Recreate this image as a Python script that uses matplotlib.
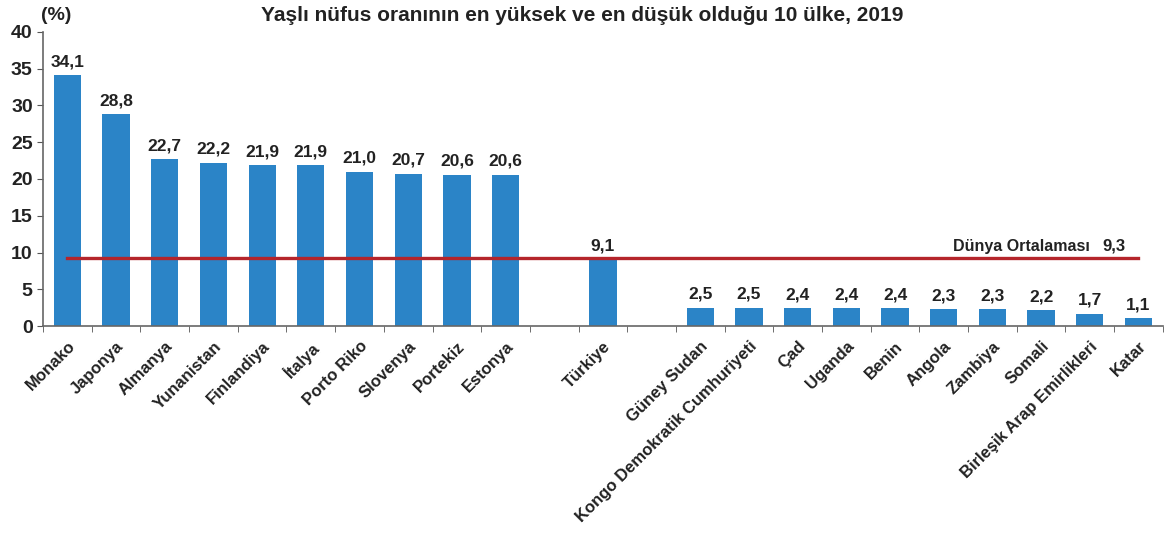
import numpy as np
import matplotlib.pyplot as plt

countries = ['Monako', 'Japonya', 'Almanya', 'Yunanistan', 'Finlandiya', 'İtalya',
             'Porto Riko', 'Slovenya', 'Portekiz', 'Estonya', '',
             'Türkiye', '',
             'Güney Sudan', 'Kongo Demokratik Cumhuriyeti', 'Çad', 'Uganda', 'Benin',
             'Angola', 'Zambiya', 'Somali', 'Birleşik Arap Emirlikleri', 'Katar']
values = [34.1, 28.8, 22.7, 22.2, 21.9, 21.9, 21.0, 20.7, 20.6, 20.6, None,
          9.1, None,
          2.5, 2.5, 2.4, 2.4, 2.4, 2.3, 2.3, 2.2, 1.7, 1.1]
world_avg = 9.3

plt.rcParams['font.family'] = ['Liberation Sans', 'DejaVu Sans']
plt.rcParams['font.weight'] = 'bold'

fig = plt.figure(figsize=(11.64, 5.39), dpi=100)
ax = fig.add_axes([0.037, 0.395, 0.962, 0.546])

x = np.arange(len(countries))
for i, v in enumerate(values):
    if v is None:
        continue
    ax.bar(x[i], v, width=0.56, color='#2B84C7', zorder=2)
    ax.text(x[i], v + 0.8, f'{v:.1f}'.replace('.', ','), ha='center', va='bottom',
            fontsize=12.5, fontweight='bold', color='#222222')

ax.plot([x[0], x[-1]], [world_avg, world_avg], color='#B5252B', lw=2.4, zorder=3)
ax.text(x[-1] - 1.0, world_avg + 0.5, 'Dünya Ortalaması', ha='right', va='bottom',
        fontsize=11.5, fontweight='bold', color='#222222')
ax.text(x[-1] - 0.5, world_avg + 0.5, '9,3', ha='center', va='bottom',
        fontsize=12, fontweight='bold', color='#222222')

ax.set_xlim(-0.5, len(countries) - 0.5)
ax.set_ylim(0, 40)
ax.set_yticks(range(0, 41, 5))
ax.tick_params(axis='y', labelsize=14, colors='#222222', length=4, color='#555555')

ax.set_xticks(x)
ax.set_xticklabels(countries, rotation=45, ha='right', rotation_mode='anchor',
                   fontsize=12, fontweight='bold', color='#222222')
ax.tick_params(axis='x', which='major', length=0, pad=9)
ax.set_xticks(np.arange(-0.5, len(countries), 1), minor=True)
ax.tick_params(axis='x', which='minor', length=4, color='#555555')

for s in ['top', 'right']:
    ax.spines[s].set_visible(False)
for s in ['left', 'bottom']:
    ax.spines[s].set_color('#666666')
    ax.spines[s].set_linewidth(1.2)

for lbl in ax.get_yticklabels():
    lbl.set_fontweight('bold')

fig.text(0.5, 0.972, 'Yaşlı nüfus oranının en yüksek ve en düşük olduğu 10 ülke, 2019',
         ha='center', va='center', fontsize=15, fontweight='bold', color='#222222')
fig.text(0.048, 0.972, '(%)', ha='center', va='center', fontsize=14,
         fontweight='bold', color='#222222')

fig.savefig('out.png', dpi=100)
